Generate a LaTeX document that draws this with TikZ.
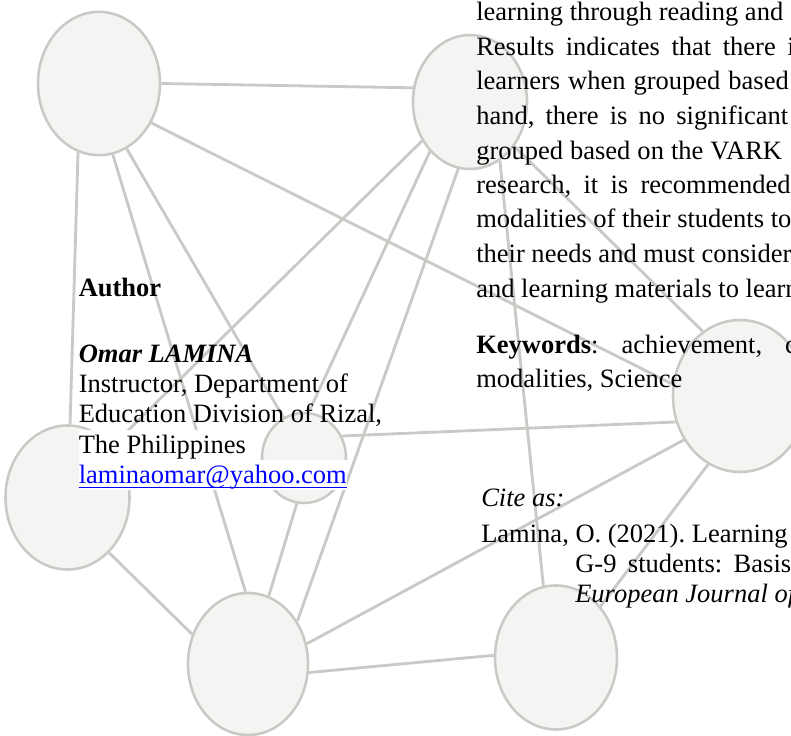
\documentclass[tikz,border=0pt]{standalone}
\usepackage{fontspec}
\setmainfont{Liberation Serif}
\usetikzlibrary{shapes.geometric}
\definecolor{gristrait}{HTML}{C9C9C5}
\definecolor{grisfond}{HTML}{F4F4F2}
\definecolor{lien}{HTML}{0000FF}
\newcommand{\taille}{\fontsize{18.85}{22}\selectfont}
\frenchspacing

\begin{document}
\begin{tikzpicture}[x=0.025cm, y=-0.025cm,
    bulle/.style={ellipse, draw=gristrait, fill=grisfond, line width=1.8pt, inner sep=0pt},
    trait/.style={draw=gristrait, line width=2pt},
    texte/.style={anchor=base west, inner sep=0pt, font=\taille},
    espace/.style={execute at begin node={\spaceskip=#1\relax}},
    surligne/.style={fill=white, text height=16.4pt, text depth=5pt}]

      \clip (0,0) rectangle (791,736);
      \fill[white] (0,0) rectangle (791,736);

      %bulles
      \node[bulle, minimum width=3.05cm, minimum height=3.58cm] (hg) at (99,83.5) {};
      \node[bulle, minimum width=2.85cm, minimum height=3.35cm] (hm) at (470,102) {};
      \node[bulle, minimum width=3.1cm, minimum height=3.6cm] (mg) at (67.5,497.5) {};
      \node[bulle, minimum width=2.1cm, minimum height=2.25cm] (pc) at (304,458) {};
      \node[bulle, minimum width=3cm, minimum height=3.55cm] (bm) at (248,664) {};
      \node[bulle, minimum width=3.05cm, minimum height=3.6cm] (bd) at (556,657.5) {};
      \node[bulle, minimum width=3.35cm, minimum height=3.8cm] (dr) at (740,396) {};

      %liens
      \draw[trait] (hg.0) -- (hm.166);
      \draw[trait] (hg.-37) -- (dr.170);
      \draw[trait] (hg.-107) -- (mg.88);
      \draw[trait] (hg.-79) -- (bm.92);
      \draw[trait] (hg.-67) -- (pc.117);
      \draw[trait] (hm.-141) -- (mg.49);
      \draw[trait] (hm.-129) -- (pc.84);
      \draw[trait] (hm.-100) -- (bm.41);
      \draw[trait] (hm.-63) -- (bd.100);
      \draw[trait] (hm.-45) -- (dr.120);
      \draw[trait] (mg.-53) -- (bm.152);
      \draw[trait] (pc.-99) -- (bm.73);
      \draw[trait] (pc.30) -- (dr.202);
      \draw[trait] (bm.-8) -- (bd.178);
      \draw[trait] (bm.19) -- (dr.218);
      \draw[trait] (bd.49) -- (dr.245);

      %auteur
      \node[texte] (auteur) at (78.5,296) {\textbf{Author}};
      \node[texte] (nom) at (78.5,362) {\textbf{\textit{Omar LAMINA}}};
      \node[texte] (poste) at (78.5,392) {Instructor, Department of};
      \node[texte] (division) at (78.5,422) {Education Division of Rizal,};
      \node[texte, surligne] (pays) at (78.5,453) {The Philippines};
      \node[texte, surligne, text=lien] (courriel) at (78.5,483) {laminaomar@yahoo.com};
      \draw[lien, line width=1.1pt] ([yshift=-3.2pt]courriel.base west) -- ([yshift=-3.2pt]courriel.base east);

      %resume
      \node[texte] (l1) at (476,21) {learning through reading and};
      \node[texte, espace=8.18pt] (l2) at (476,55.5) {Results indicates that there i};
      \node[texte, espace=5.69pt] (l3) at (476,90) {learners when grouped based};
      \node[texte, espace=7.97pt] (l4) at (476,124.5) {hand, there is no significant};
      \node[texte, espace=4.98pt] (l5) at (476,159) {grouped based on the VARK};
      \node[texte, espace=8.75pt] (l6) at (476,193.5) {research, it is recommended};
      \node[texte] (l7) at (476,228) {modalities of their students to};
      \node[texte] (l8) at (476,262.5) {their needs and must consider};
      \node[texte] (l9) at (476,297) {and learning materials to learn};

      %mots cles
      \node[texte, espace=16.4pt] (cles) at (476,353) {\textbf{Keywords}: achievement, c};
      \node[texte] (cles2) at (476,387.5) {modalities, Science};

      %citation
      \node[texte] (cite) at (481,506) {\textit{Cite as:}};
      \node[texte] (ref1) at (481,542) {Lamina, O. (2021). Learning};
      \node[texte, espace=8.18pt] (ref2) at (575,572) {G-9 students: Basis};
      \node[texte] (ref3) at (575,602) {\textit{European Journal of}};

    \end{tikzpicture}
\end{document}
